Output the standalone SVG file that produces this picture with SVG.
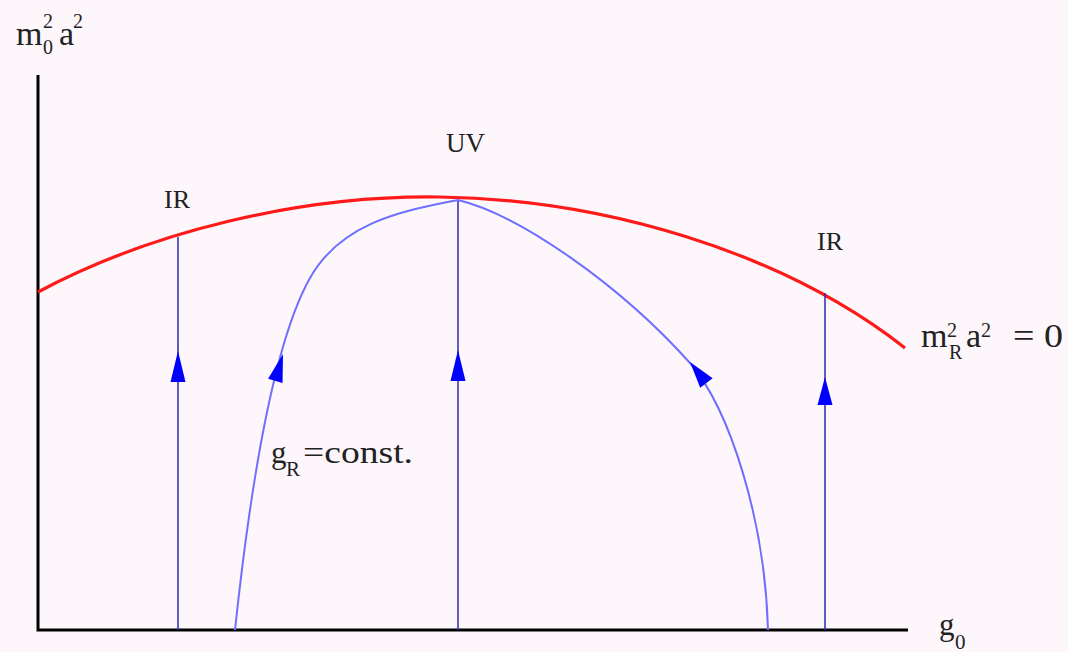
<svg xmlns="http://www.w3.org/2000/svg" width="1068" height="652" viewBox="0 0 1068 652">
<defs>
<style>
.t{font-family:"Liberation Serif","DejaVu Serif",serif;fill:#222}
.axis{stroke:#000;stroke-width:3;fill:none}
.red{stroke:#ff1a1a;stroke-width:3.2;fill:none}
.vl{stroke:#2a2ab0;stroke-width:1.5;fill:none}
.cv{stroke:#6f6fff;stroke-width:2;fill:none}
.ah{fill:#0000ff}
</style>
<path id="ah" d="M0,0 L-7.5,31 L7.5,31 Z"/>
</defs>
<rect width="1068" height="652" fill="#fdf7fc"/>
<g id="axes">
<path class="axis" d="M38,75 V630 H908"/>
</g>
<g id="connectors">
<path id="mass-zero-curve" class="red" d="M38,292 C150,232 300,195 440,197 C600,199 780,250 905,348"/>
<path class="vl" d="M178,630 V237"/>
<path class="vl" d="M458,630 V200"/>
<path class="vl" d="M825,630 V293"/>
<path class="cv" d="M235,630 C252,470 275,340 310,278 C340,225 395,212 458,200"/>
<path class="cv" d="M458,200 C520,215 620,285 690,363 C730,410 765,520 768,630"/>
<use href="#ah" class="ah" transform="translate(178,351)"/>
<use href="#ah" class="ah" transform="translate(458,350)"/>
<use href="#ah" class="ah" transform="translate(825,377) scale(1,0.9)"/>
<use href="#ah" class="ah" transform="translate(283,354) rotate(16) scale(1,0.9)"/>
<use href="#ah" class="ah" transform="translate(690,362) rotate(-38) scale(1.05,0.86)"/>
</g>
<g id="label-yaxis">
<text class="t" x="16" y="45" font-size="34">m</text>
<text class="t" x="43" y="28" font-size="20">2</text>
<text class="t" x="43" y="54" font-size="20">0</text>
<text class="t" x="59" y="45" font-size="34">a</text>
<text class="t" x="73" y="28" font-size="20">2</text>
</g>
<g id="label-xaxis">
<text class="t" x="939" y="635" font-size="31">g</text>
<text class="t" x="955" y="649" font-size="21">0</text>
</g>
<g id="label-uv"><text class="t" x="446" y="152" font-size="27">UV</text></g>
<g id="label-ir-left"><text class="t" x="164" y="208" font-size="26">IR</text></g>
<g id="label-ir-right"><text class="t" x="817" y="250" font-size="26">IR</text></g>
<g id="label-mr">
<text class="t" x="921" y="347" font-size="34">m</text>
<text class="t" x="947" y="337" font-size="20">2</text>
<text class="t" x="949" y="359" font-size="20">R</text>
<text class="t" x="966" y="347" font-size="34">a</text>
<text class="t" x="981" y="337" font-size="20">2</text>
<text class="t" x="1013" y="347" font-size="34" textLength="50" lengthAdjust="spacingAndGlyphs">= 0</text>
</g>
<g id="label-gr">
<text class="t" x="271" y="463" font-size="31">g</text>
<text class="t" x="286" y="476" font-size="21">R</text>
<text class="t" x="303" y="463" font-size="32" textLength="110" lengthAdjust="spacingAndGlyphs">=const.</text>
</g>
</svg>
